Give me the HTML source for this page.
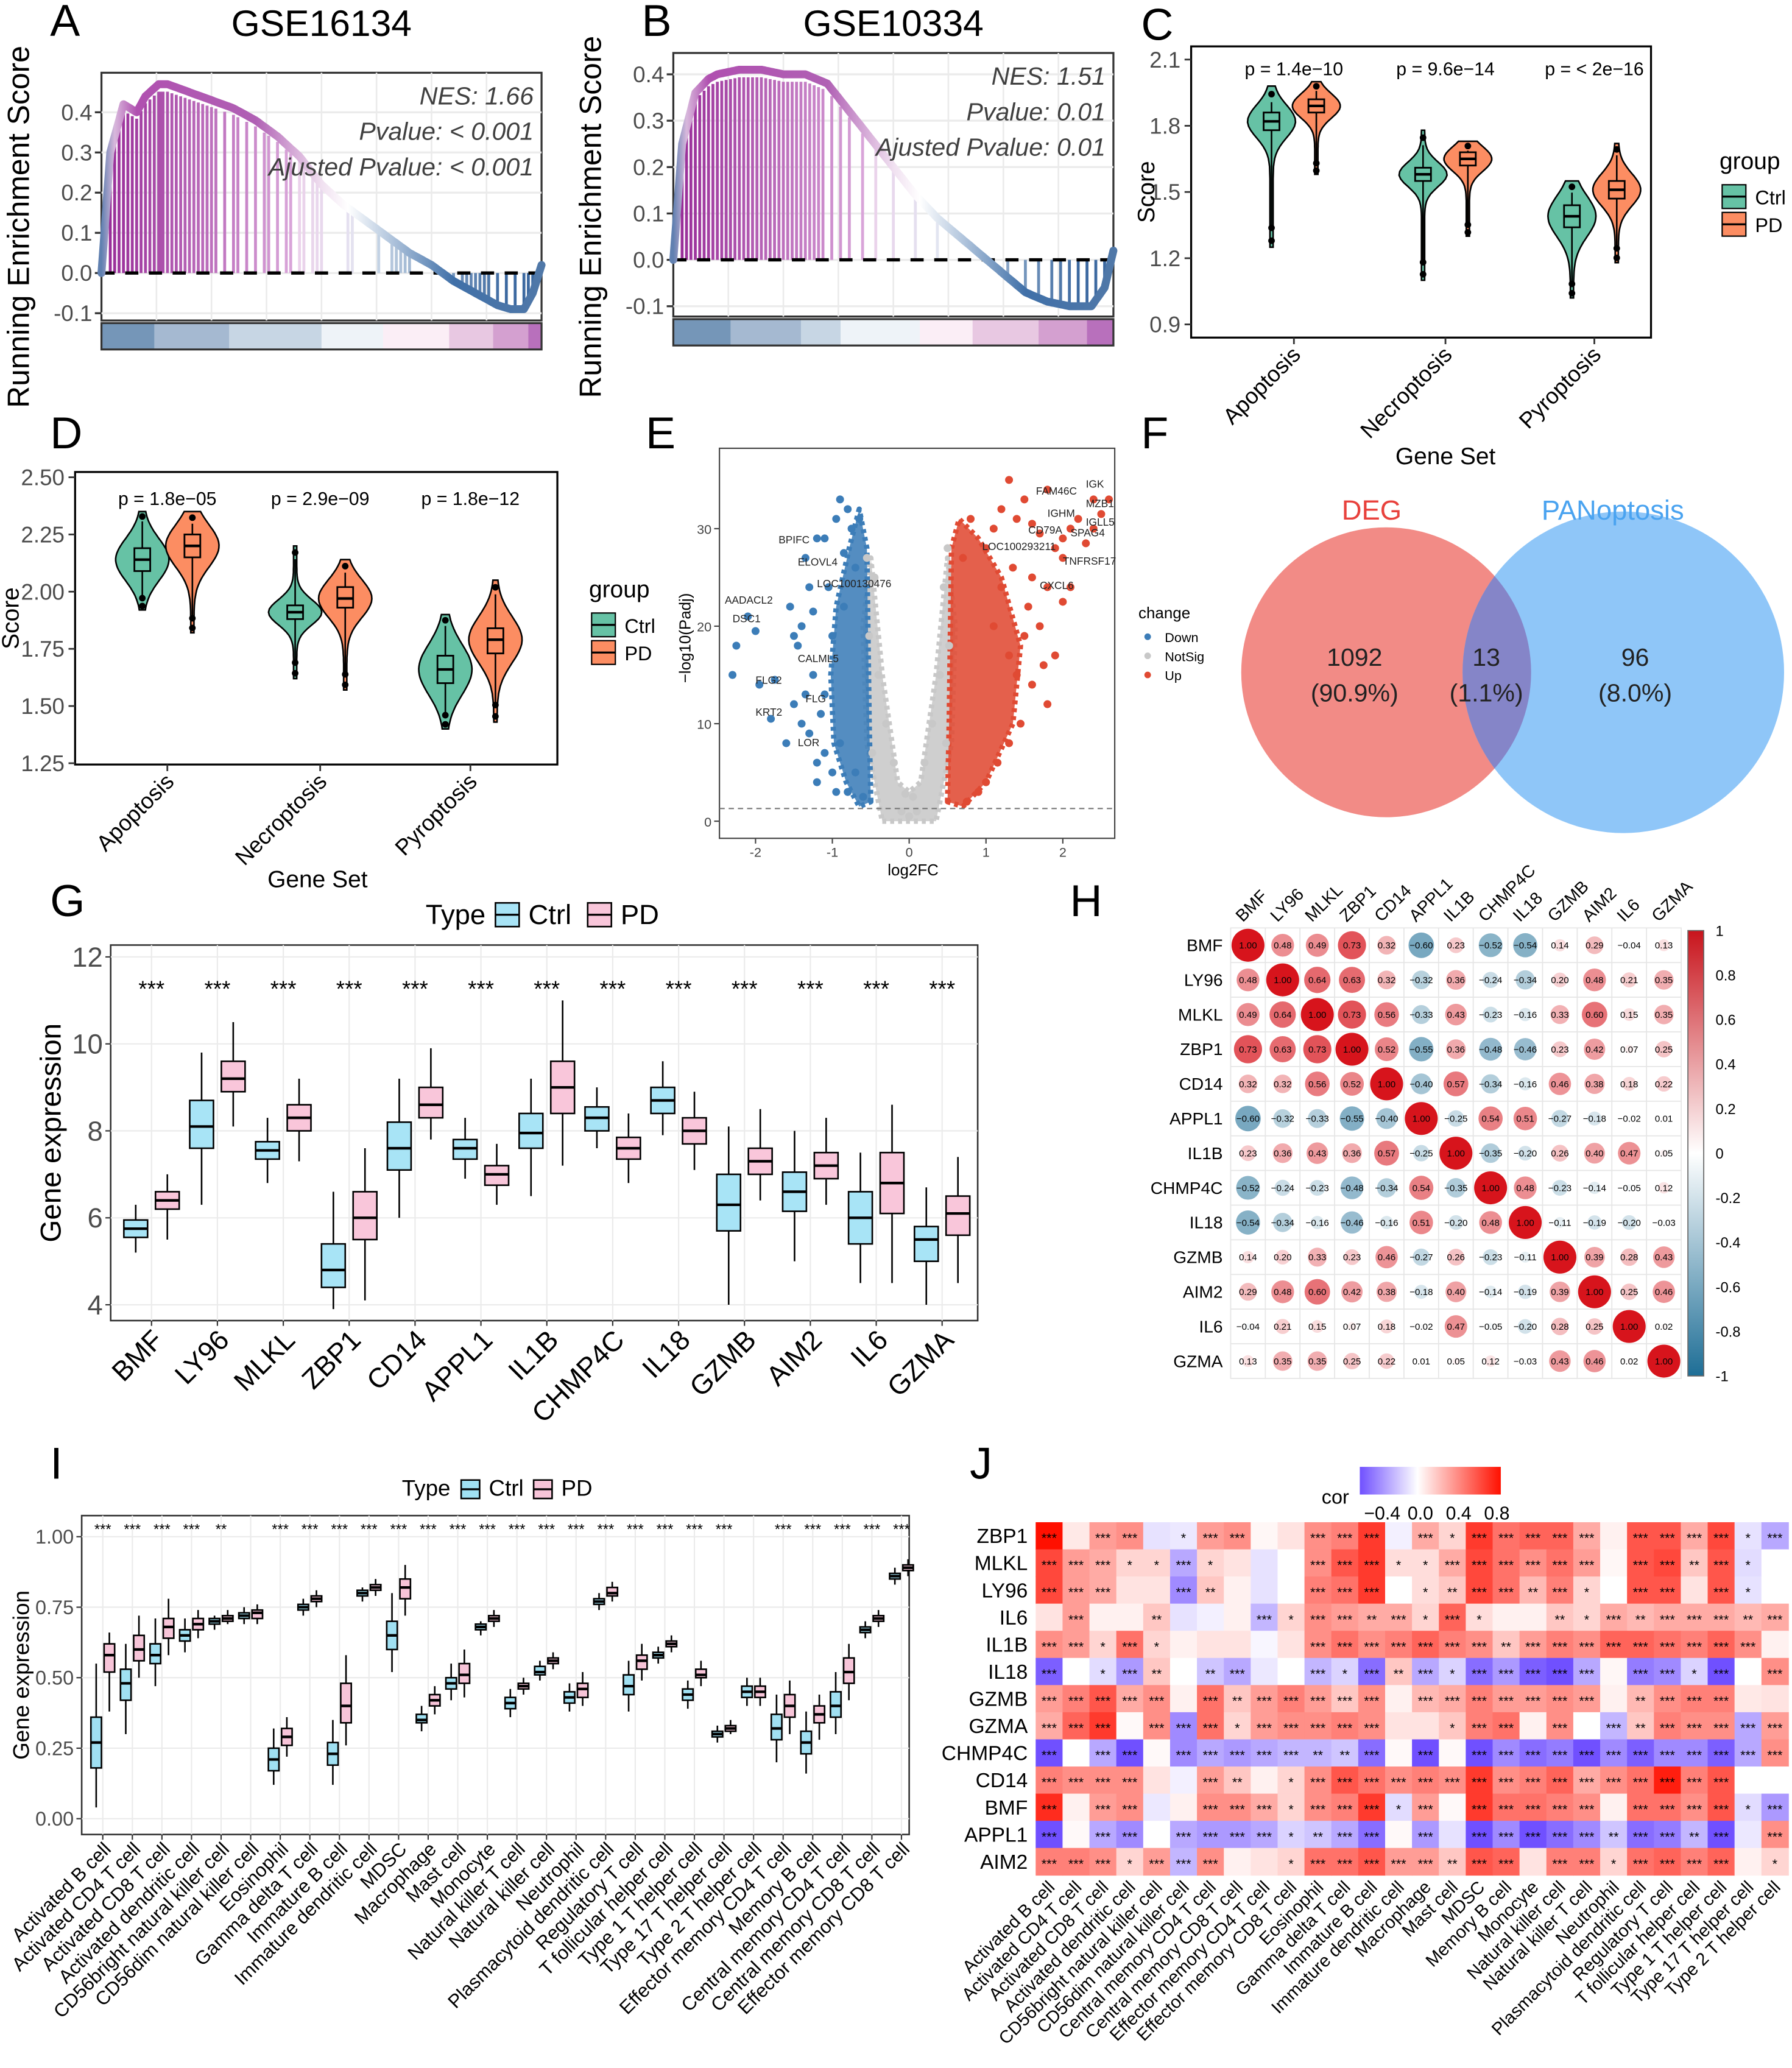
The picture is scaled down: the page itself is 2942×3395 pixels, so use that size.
<!DOCTYPE html>
<html><head><meta charset="utf-8"><title>Figure</title>
<style>
html,body{margin:0;padding:0;background:#fff;}
svg{display:block;}
text{font-family:"Liberation Sans",Arial,sans-serif;}
</style></head>
<body>
<svg id="fig" xmlns="http://www.w3.org/2000/svg" width="2942" height="3395" viewBox="0 0 1360 1569">
<rect x="0" y="0" width="1360" height="1569" fill="#fff"/>
<g font-size="34" fill="#000">
<text x="38" y="27">A</text>
<text x="487" y="27">B</text>
<text x="866" y="30">C</text>
<text x="38" y="340">D</text>
<text x="490" y="340">E</text>
<text x="866" y="340">F</text>
<text x="38" y="695">G</text>
<text x="812" y="695">H</text>
<text x="38" y="1122">I</text>
<text x="736" y="1122">J</text>
</g>
<defs>
<linearGradient id="esGrad" x1="0" x2="1" y1="0" y2="0">
<stop offset="0" stop-color="#6080B0"/><stop offset="0.03" stop-color="#D8B8DC"/><stop offset="0.08" stop-color="#B050B0"/>
<stop offset="0.35" stop-color="#B060B4"/><stop offset="0.5" stop-color="#F0E0F0"/><stop offset="0.56" stop-color="#FFFFFF"/>
<stop offset="0.66" stop-color="#B0C4DC"/><stop offset="0.8" stop-color="#4070A8"/><stop offset="1" stop-color="#5078A8"/>
</linearGradient>
<linearGradient id="hGrad" x1="0" x2="0" y1="0" y2="1">
<stop offset="0" stop-color="#C8141C"/><stop offset="0.5" stop-color="#FFFFFF"/><stop offset="1" stop-color="#1E6E96"/>
</linearGradient>
<linearGradient id="jGrad" x1="0" x2="1" y1="0" y2="0">
<stop offset="0" stop-color="#7050FF"/><stop offset="0.41" stop-color="#FFFFFF"/><stop offset="1" stop-color="#FF1000"/>
</linearGradient>
</defs>
<g id="root"></g>
</svg>
<script>
const esFracA=[0,0.02,0.05,0.08,0.1,0.13,0.15,0.2,0.25,0.3,0.35,0.4,0.45,0.5,0.55,0.6,0.65,0.7,0.75,0.8,0.85,0.9,0.93,0.96,0.98,1];
const esValA=[0,0.30,0.42,0.40,0.44,0.47,0.47,0.45,0.43,0.41,0.38,0.34,0.29,0.22,0.17,0.13,0.09,0.05,0.02,-0.02,-0.05,-0.08,-0.09,-0.09,-0.05,0.02];
const hitsA=[0.02,0.03,0.04,0.05,0.06,0.07,0.08,0.09,0.1,0.11,0.12,0.13,0.135,0.14,0.15,0.16,0.17,0.18,0.19,0.2,0.21,0.22,0.23,0.24,0.25,0.26,0.28,0.3,0.31,0.33,0.35,0.37,0.38,0.4,0.42,0.43,0.45,0.46,0.48,0.49,0.5,0.56,0.57,0.63,0.66,0.67,0.68,0.69,0.7,0.78,0.8,0.82,0.83,0.84,0.85,0.86,0.87,0.88,0.9,0.92,0.94,0.96,0.97,0.98];
const esFracB=[0,0.02,0.05,0.08,0.1,0.15,0.2,0.25,0.3,0.35,0.4,0.45,0.5,0.55,0.6,0.65,0.7,0.75,0.8,0.85,0.9,0.95,0.98,1];
const esValB=[0,0.25,0.36,0.39,0.40,0.41,0.41,0.40,0.40,0.38,0.32,0.26,0.20,0.14,0.09,0.05,0.01,-0.03,-0.07,-0.09,-0.10,-0.10,-0.06,0.02];
const hitsB=[0.02,0.03,0.04,0.05,0.06,0.07,0.08,0.09,0.1,0.11,0.12,0.13,0.14,0.15,0.16,0.17,0.18,0.19,0.2,0.21,0.22,0.23,0.24,0.25,0.26,0.27,0.28,0.29,0.3,0.31,0.32,0.33,0.34,0.36,0.38,0.4,0.43,0.46,0.5,0.55,0.6,0.7,0.76,0.8,0.83,0.86,0.88,0.9,0.92,0.94,0.96,0.98];
const nesA=["NES: 1.66","Pvalue: < 0.001","Ajusted Pvalue: < 0.001"];
const nesB=["NES: 1.51","Pvalue: 0.01","Ajusted Pvalue: 0.01"];
const esTicks=[0.4,0.3,0.2,0.1,0.0,-0.1];

const geneSets=["Apoptosis","Necroptosis","Pyroptosis"];
const cMin=[[1.25,1.58],[1.1,1.3],[1.02,1.18]];
const cMax=[[1.98,2.0],[1.78,1.73],[1.55,1.72]];
const cMed=[[1.82,1.89],[1.58,1.65],[1.39,1.51]];
const cQ1=[[1.78,1.86],[1.55,1.62],[1.34,1.47]];
const cQ3=[[1.86,1.92],[1.61,1.68],[1.44,1.55]];
const cP=["p = 1.4e\u221210","p = 9.6e\u221214","p = < 2e\u221216"];
const cTicks=[2.1,1.8,1.5,1.2,0.9];
const dMin=[[1.92,1.82],[1.62,1.57],[1.4,1.43]];
const dMax=[[2.35,2.35],[2.2,2.14],[1.9,2.05]];
const dMed=[[2.14,2.20],[1.91,1.97],[1.66,1.79]];
const dQ1=[[2.09,2.15],[1.88,1.93],[1.60,1.73]];
const dQ3=[[2.19,2.25],[1.94,2.02],[1.72,1.84]];
const dP=["p = 1.8e\u221205","p = 2.9e\u221209","p = 1.8e\u221212"];
const dTicks=[2.50,2.25,2.00,1.75,1.50,1.25];

const downPts=[[-2.3,15],[-2.25,18],[-2.1,21],[-2.0,19.5],[-1.95,14],[-1.75,14.5],[-1.8,10.5],[-1.5,19],[-1.55,22],[-1.4,20],[-1.3,24],[-1.35,27],[-1.1,29],[-1.2,29],[-0.95,31],[-0.9,33],[-0.8,32],[-0.75,30],[-1.25,15],[-1.35,13],[-1.3,9],[-1.1,7],[-1.2,6],[-1.0,5],[-0.95,3],[-0.8,3],[-1.45,18],[-1.1,13],[-1.05,24],[-0.85,22],[-0.7,26],[-0.65,31],[-1.4,10],[-1.5,12],[-1.15,11],[-0.9,8],[-0.7,5],[-0.6,2.5],[-1.25,21.5],[-1.0,19],[-0.85,27.5],[-1.6,8],[-1.2,4]];
const upPts=[[2.6,33],[2.5,31.5],[2.4,33],[2.2,31],[2.1,30],[2.0,29],[1.9,28],[1.7,29.5],[1.6,30.5],[1.8,34],[1.5,33],[1.3,35],[1.2,32],[1.1,30],[1.4,31],[2.3,28.5],[2.0,27],[1.8,24],[1.6,25],[1.55,22],[1.7,20],[1.9,17],[2.0,22.5],[1.4,15],[1.3,17],[1.6,14],[1.8,12],[1.45,10],[1.3,8],[1.15,6],[1.0,4],[0.9,3],[0.75,2],[1.5,19],[1.2,24],[1.0,28],[0.8,31],[0.7,27],[1.75,16],[2.1,24],[1.1,20],[1.35,26],[2.4,30]];
const nsPts=[[0.05,2.5],[-0.05,2.8],[0.2,6],[-0.2,6],[0.4,15],[-0.4,15],[0.45,24],[-0.45,25],[0.5,28],[-0.55,27],[0.3,10],[-0.3,10],[0.1,1],[-0.1,1],[0,0.5],[0.52,18],[-0.52,19],[0.48,8],[-0.48,7]];
const downCore=[[-0.5,2],[-0.52,10],[-0.55,28],[-0.65,32],[-0.78,28],[-0.95,22],[-1.02,15],[-0.98,8],[-0.82,4],[-0.65,1.5]];
const upCore=[[0.5,2],[0.52,10],[0.55,28],[0.65,31],[0.9,29],[1.2,25],[1.45,18],[1.35,10],[1.0,4],[0.7,1.5]];
const nsCore=[[-0.35,0],[0.35,0],[0.55,8],[0.6,20],[0.5,27],[0.35,15],[0.15,4],[0,3],[-0.15,4],[-0.35,15],[-0.5,27],[-0.6,20],[-0.55,8]];
const eXTicks=[-2,-1,0,1,2];
const eYTicks=[0,10,20,30];
const upLabels=[["FAM46C",1.65,33.5],["IGK",2.3,34.2],["MZB1",2.3,32.2],["IGHM",1.8,31.2],["IGLL5",2.3,30.3],["CD79A",1.55,29.5],["SPAG4",2.1,29.2],["LOC100293211",0.95,27.8],["TNFRSF17",2.0,26.3],["CXCL6",1.7,23.8]];
const downLabels=[["BPIFC",-1.7,28.5],["ELOVL4",-1.45,26.2],["LOC100130476",-1.2,24.0],["AADACL2",-2.4,22.3],["DSC1",-2.3,20.4],["CALML5",-1.45,16.3],["FLG2",-2.0,14.1],["FLG",-1.35,12.2],["KRT2",-2.0,10.8],["LOR",-1.45,7.7]];

const gGenes=["BMF","LY96","MLKL","ZBP1","CD14","APPL1","IL1B","CHMP4C","IL18","GZMB","AIM2","IL6","GZMA"];
const gCtrlMed=[5.75,8.1,7.55,4.8,7.6,7.6,7.95,8.3,8.7,6.3,6.6,6.0,5.5];
const gCtrlQ1=[5.55,7.6,7.35,4.4,7.1,7.35,7.6,8.0,8.4,5.7,6.15,5.4,5.0];
const gCtrlQ3=[5.95,8.7,7.75,5.4,8.2,7.8,8.4,8.55,9.0,7.0,7.05,6.6,5.8];
const gCtrlLo=[5.2,6.3,6.8,3.9,6.0,6.9,6.5,7.6,7.9,4.0,5.0,4.5,4.0];
const gCtrlHi=[6.3,9.8,8.3,6.6,9.2,8.3,9.2,9.0,9.6,8.1,8.0,7.5,6.7];
const gPdMed=[6.4,9.2,8.3,6.0,8.6,7.0,9.0,7.6,8.0,7.3,7.2,6.8,6.1];
const gPdQ1=[6.2,8.9,8.0,5.5,8.3,6.75,8.4,7.35,7.7,7.0,6.9,6.1,5.6];
const gPdQ3=[6.6,9.6,8.6,6.6,9.0,7.2,9.6,7.85,8.3,7.6,7.5,7.5,6.5];
const gPdLo=[5.5,8.1,7.3,4.1,7.8,6.3,7.2,6.8,7.1,6.4,6.3,4.5,4.5];
const gPdHi=[7.0,10.5,9.2,7.6,9.9,7.7,11.0,8.4,8.9,8.5,8.3,8.6,7.4];
const gTicks=[12,10,8,6,4];

const hGenes=["BMF","LY96","MLKL","ZBP1","CD14","APPL1","IL1B","CHMP4C","IL18","GZMB","AIM2","IL6","GZMA"];
const hCor=[
[1.00,0.48,0.49,0.73,0.32,-0.60,0.23,-0.52,-0.54,0.14,0.29,-0.04,0.13],
[0.48,1.00,0.64,0.63,0.32,-0.32,0.36,-0.24,-0.34,0.20,0.48,0.21,0.35],
[0.49,0.64,1.00,0.73,0.56,-0.33,0.43,-0.23,-0.16,0.33,0.60,0.15,0.35],
[0.73,0.63,0.73,1.00,0.52,-0.55,0.36,-0.48,-0.46,0.23,0.42,0.07,0.25],
[0.32,0.32,0.56,0.52,1.00,-0.40,0.57,-0.34,-0.16,0.46,0.38,0.18,0.22],
[-0.60,-0.32,-0.33,-0.55,-0.40,1.00,-0.25,0.54,0.51,-0.27,-0.18,-0.02,0.01],
[0.23,0.36,0.43,0.36,0.57,-0.25,1.00,-0.35,-0.20,0.26,0.40,0.47,0.05],
[-0.52,-0.24,-0.23,-0.48,-0.34,0.54,-0.35,1.00,0.48,-0.23,-0.14,-0.05,0.12],
[-0.54,-0.34,-0.16,-0.46,-0.16,0.51,-0.20,0.48,1.00,-0.11,-0.19,-0.20,-0.03],
[0.14,0.20,0.33,0.23,0.46,-0.27,0.26,-0.23,-0.11,1.00,0.39,0.28,0.43],
[0.29,0.48,0.60,0.42,0.38,-0.18,0.40,-0.14,-0.19,0.39,1.00,0.25,0.46],
[-0.04,0.21,0.15,0.07,0.18,-0.02,0.47,-0.05,-0.20,0.28,0.25,1.00,0.02],
[0.13,0.35,0.35,0.25,0.22,0.01,0.05,0.12,-0.03,0.43,0.46,0.02,1.00]];
const hTicks=["1","0.8","0.6","0.4","0.2","0","-0.2","-0.4","-0.6","-0.8","-1"];

const iCells=["Activated B cell","Activated CD4 T cell","Activated CD8 T cell","Activated dendritic cell","CD56bright natural killer cell","CD56dim natural killer cell","Eosinophil","Gamma delta T cell","Immature B cell","Immature dendritic cell","MDSC","Macrophage","Mast cell","Monocyte","Natural killer T cell","Natural killer cell","Neutrophil","Plasmacytoid dendritic cell","Regulatory T cell","T follicular helper cell","Type 1 T helper cell","Type 17 T helper cell","Type 2 T helper cell","Effector memory CD4 T cell","Memory B cell","Central memory CD4 T cell","Central memory CD8 T cell","Effector memory CD8 T cell"];
const iCtrlMed=[0.27,0.48,0.58,0.65,0.70,0.72,0.21,0.75,0.23,0.80,0.65,0.35,0.48,0.68,0.41,0.52,0.43,0.77,0.47,0.58,0.44,0.30,0.45,0.32,0.27,0.40,0.67,0.86];
const iCtrlQ1=[0.18,0.42,0.55,0.63,0.69,0.71,0.17,0.74,0.19,0.79,0.60,0.34,0.46,0.67,0.39,0.51,0.41,0.76,0.44,0.57,0.42,0.29,0.43,0.28,0.23,0.36,0.66,0.85];
const iCtrlQ3=[0.36,0.53,0.62,0.67,0.71,0.73,0.25,0.76,0.27,0.81,0.70,0.37,0.50,0.69,0.43,0.54,0.45,0.78,0.51,0.59,0.46,0.31,0.47,0.37,0.31,0.45,0.68,0.87];
const iCtrlLo=[0.04,0.30,0.47,0.59,0.67,0.69,0.12,0.72,0.12,0.77,0.52,0.31,0.42,0.65,0.36,0.49,0.38,0.74,0.38,0.55,0.39,0.27,0.40,0.20,0.16,0.30,0.64,0.83];
const iCtrlHi=[0.55,0.62,0.71,0.71,0.72,0.75,0.32,0.78,0.35,0.82,0.80,0.40,0.55,0.70,0.46,0.56,0.48,0.80,0.56,0.61,0.49,0.33,0.50,0.44,0.38,0.52,0.70,0.89];
const iPdMed=[0.58,0.60,0.68,0.69,0.71,0.73,0.29,0.78,0.40,0.82,0.82,0.42,0.51,0.71,0.47,0.56,0.46,0.80,0.56,0.62,0.51,0.32,0.45,0.40,0.37,0.52,0.71,0.89];
const iPdQ1=[0.52,0.56,0.64,0.67,0.70,0.71,0.26,0.77,0.34,0.81,0.78,0.40,0.48,0.70,0.46,0.55,0.43,0.79,0.53,0.61,0.50,0.31,0.43,0.36,0.34,0.48,0.70,0.88];
const iPdQ3=[0.62,0.65,0.71,0.71,0.72,0.74,0.32,0.79,0.48,0.83,0.85,0.44,0.55,0.72,0.48,0.57,0.48,0.82,0.58,0.63,0.53,0.33,0.47,0.44,0.40,0.57,0.72,0.90];
const iPdLo=[0.38,0.50,0.58,0.64,0.69,0.69,0.22,0.75,0.26,0.79,0.72,0.37,0.43,0.68,0.44,0.53,0.40,0.77,0.49,0.59,0.47,0.30,0.40,0.30,0.28,0.42,0.68,0.86];
const iPdHi=[0.66,0.72,0.78,0.74,0.74,0.76,0.36,0.81,0.58,0.85,0.90,0.47,0.60,0.74,0.50,0.59,0.52,0.84,0.62,0.65,0.56,0.35,0.50,0.49,0.44,0.62,0.74,0.92];
const iStars=["***","***","***","***","**","","***","***","***","***","***","***","***","***","***","***","***","***","***","***","***","***","","***","***","***","***","***"];
const iTicks=[1.00,0.75,0.50,0.25,0.00];

const jRows=["ZBP1","MLKL","LY96","IL6","IL1B","IL18","GZMB","GZMA","CHMP4C","CD14","BMF","APPL1","AIM2"];
const jCols=["Activated B cell","Activated CD4 T cell","Activated CD8 T cell","Activated dendritic cell","CD56bright natural killer cell","CD56dim natural killer cell","Central memory CD4 T cell","Central memory CD8 T cell","Effector memory CD4 T cell","Effector memory CD8 T cell","Eosinophil","Gamma delta T cell","Immature B cell","Immature dendritic cell","Macrophage","Mast cell","MDSC","Memory B cell","Monocyte","Natural killer cell","Natural killer T cell","Neutrophil","Plasmacytoid dendritic cell","Regulatory T cell","T follicular helper cell","Type 1 T helper cell","Type 17 T helper cell","Type 2 T helper cell"];
const jCor=[
[0.85,0.08,0.35,0.4,-0.1,-0.08,0.35,0.4,0.03,0.1,0.4,0.45,0.7,-0.05,0.3,0.15,0.7,0.5,0.55,0.55,0.3,0.05,0.6,0.6,0.3,0.65,-0.1,-0.3],
[0.65,0.35,0.3,0.15,0.15,-0.3,0.15,0.1,-0.1,0.0,0.4,0.6,0.7,0.12,0.12,0.3,0.65,0.5,0.4,0.5,0.35,0.03,0.6,0.65,0.2,0.6,-0.12,0.0],
[0.65,0.35,0.3,0.1,0.1,-0.4,0.2,0.05,-0.1,0.0,0.45,0.5,0.7,0.0,0.12,0.2,0.65,0.5,0.25,0.45,0.15,0.0,0.6,0.6,0.1,0.6,-0.1,0.0],
[0.1,0.35,0.05,0.05,0.2,-0.1,-0.05,0.05,-0.25,0.15,0.4,0.35,0.3,0.3,0.15,0.55,0.12,0.05,0.05,0.2,0.15,0.3,0.25,0.3,0.3,0.3,0.25,0.3],
[0.4,0.35,0.15,0.5,0.15,0.05,0.1,0.1,-0.03,0.1,0.4,0.5,0.4,0.45,0.55,0.45,0.4,0.2,0.35,0.45,0.4,0.55,0.55,0.5,0.45,0.55,0.4,0.05],
[-0.55,0.0,-0.12,-0.35,0.2,0.0,-0.2,-0.3,-0.08,0.0,-0.25,-0.15,-0.5,0.2,-0.3,-0.15,-0.5,-0.35,-0.55,-0.6,-0.3,0.03,-0.45,-0.4,-0.15,-0.65,0.0,0.4],
[0.35,0.45,0.6,0.3,0.4,0.05,0.5,0.2,0.35,0.45,0.35,0.2,0.4,0.05,0.25,0.3,0.45,0.35,0.35,0.4,0.35,0.05,0.25,0.4,0.45,0.45,0.08,0.1],
[0.3,0.55,0.7,0.02,0.4,-0.4,0.5,0.15,0.35,0.4,0.4,0.45,0.4,0.1,0.1,0.2,0.45,0.5,0.05,0.4,0.0,-0.25,0.2,0.45,0.4,0.4,-0.3,0.35],
[-0.65,0.0,-0.3,-0.7,0.02,-0.4,-0.3,-0.35,-0.3,-0.25,-0.25,-0.2,-0.5,0.02,-0.6,0.02,-0.6,-0.4,-0.5,-0.45,-0.7,-0.4,-0.55,-0.4,-0.4,-0.55,-0.3,0.4],
[0.45,0.4,0.4,0.4,0.1,-0.05,0.35,0.2,0.05,0.15,0.4,0.6,0.5,0.4,0.45,0.4,0.7,0.4,0.45,0.55,0.3,0.4,0.5,0.8,0.45,0.6,0.0,0.0],
[0.75,0.05,0.35,0.4,-0.08,0.05,0.4,0.4,0.3,0.15,0.4,0.45,0.7,-0.12,0.35,0.02,0.7,0.5,0.5,0.45,0.4,0.05,0.5,0.5,0.4,0.6,-0.12,-0.35],
[-0.7,0.02,-0.3,-0.4,0.0,-0.3,-0.35,-0.35,-0.3,-0.15,-0.2,-0.3,-0.5,0.02,-0.35,-0.1,-0.7,-0.4,-0.6,-0.5,-0.4,-0.2,-0.5,-0.45,-0.25,-0.7,-0.08,0.4],
[0.45,0.45,0.4,0.15,0.35,-0.25,0.4,0.05,0.1,0.15,0.5,0.5,0.6,0.35,0.35,0.2,0.6,0.55,0.1,0.45,0.45,0.15,0.5,0.55,0.45,0.55,0.05,0.15]];
const jStars=[
["***","","***","***","","*","***","***","","","***","***","***","","***","*","***","***","***","***","***","","***","***","***","***","*","***"],
["***","***","***","*","*","***","*","","","","***","***","***","*","*","***","***","***","***","***","***","","***","***","**","***","*",""],
["***","***","***","","","***","**","","","","***","***","***","","*","**","***","***","**","***","*","","***","***","","***","*",""],
["","***","","","**","","","","***","*","***","***","**","***","*","***","*","","","**","*","***","**","***","***","***","**","***"],
["***","***","*","***","*","","","","","","***","***","***","***","***","***","***","**","***","***","***","***","***","***","***","***","***",""],
["***","","*","***","**","","**","***","","","***","*","***","**","***","*","***","***","***","***","***","","***","***","*","***","","***"],
["***","***","***","***","***","","***","**","***","***","***","***","***","","***","***","***","***","***","***","***","","**","***","***","***","",""],
["***","***","***","","***","***","***","*","***","***","***","***","***","","","*","***","***","","***","","***","**","***","***","***","***","***"],
["***","","***","***","","***","***","***","***","***","**","**","***","","***","","***","***","***","***","***","***","***","***","***","***","***","***"],
["***","***","***","***","","","***","**","","*","***","***","***","***","***","***","***","***","***","***","***","***","***","***","***","***","",""],
["***","","***","***","","","***","***","***","*","***","***","***","*","***","","***","***","***","***","***","","***","***","***","***","*","***"],
["***","","***","***","","***","***","***","***","*","**","***","***","","***","","***","***","***","***","***","**","***","***","**","***","","***"],
["***","***","***","*","***","***","***","","","*","***","***","***","***","***","**","***","***","","***","***","*","***","***","***","***","","*"]];
const jTicks=[-0.4,0.0,0.4,0.8];

const NS='http://www.w3.org/2000/svg';
const root=document.getElementById('root');
function mk(tag,attrs,parent){const e=document.createElementNS(NS,tag);for(const k in attrs)e.setAttribute(k,attrs[k]);(parent||root).appendChild(e);return e;}
function tx(x,y,s,attrs,parent){const e=mk('text',Object.assign({x:x,y:y},attrs||{}),parent);e.textContent=s;return e;}
function lerp(a,b,t){return a+(b-a)*t;}
function interp(fr,vals,f){for(let i=1;i<fr.length;i++){if(f<=fr[i]){const t=(f-fr[i-1])/(fr[i]-fr[i-1]);return lerp(vals[i-1],vals[i],t);}}return vals[vals.length-1];}
function mix(c1,c2,t){t=Math.max(0,Math.min(1,t));return 'rgb('+Math.round(lerp(c1[0],c2[0],t))+','+Math.round(lerp(c1[1],c2[1],t))+','+Math.round(lerp(c1[2],c2[2],t))+')';}

function gsea(P){
  const g=mk('g',{});
  
  
  const xS=f=>P.x0+f*P.w;
  const yS=v=>P.y0v-v*P.k;
  let t=tx(P.x0+P.w/2,27,P.title,{'font-size':28,'text-anchor':'middle'},g);
  
  
  const bx=mk('rect',{x:P.x0,y:P.top,width:P.w,height:P.bot-P.top,fill:'#fff',stroke:'#333','stroke-width':1.5},g);
  
  
  esTicks.forEach(v=>{
    const gl=mk('line',{x1:P.x0,x2:P.x0+P.w,y1:yS(v),y2:yS(v),stroke:'#ebebeb','stroke-width':1.5},g);
    
    
    const tk=mk('line',{x1:P.x0-5,x2:P.x0,y1:yS(v),y2:yS(v),stroke:'#333','stroke-width':1.5},g);
    
    
    const tl=tx(P.x0-7,yS(v)+6,v.toFixed(1),{'font-size':17,'text-anchor':'end',fill:'#4d4d4d'},g);
    
    
  });
  for(let i=1;i<8;i++){
    const vl=mk('line',{x1:P.x0+i*P.w/8,x2:P.x0+i*P.w/8,y1:P.top,y2:P.bot,stroke:'#ebebeb','stroke-width':1.2},g);
    
    
  }
  const yl=tx(0,0,'Running Enrichment Score',{'font-size':23,'text-anchor':'middle',transform:'translate('+(P.x0-55)+','+((P.top+265)/2+12)+') rotate(-90)'},g);
  
  
  P.hits.forEach(f=>{
    const v=interp(P.fr,P.vals,f)*0.96;
    let col;
    if(f<0.45) col=mix([150,40,150],[220,170,220],f/0.45);
    else if(f<0.62) col=mix([235,210,235],[225,232,242],(f-0.45)/0.17);
    else col=mix([200,214,230],[60,105,160],(f-0.62)/0.3);
    const hl=mk('line',{x1:xS(f),x2:xS(f),y1:yS(0),y2:yS(v),stroke:col,'stroke-width':2.2},g);
    
    
  });
  const zl=mk('line',{x1:P.x0,x2:P.x0+P.w,y1:yS(0),y2:yS(0),stroke:'#000','stroke-width':2.5,'stroke-dasharray':'10,8'},g);
  
  
  let d='';
  for(let i=0;i<=200;i++){const f=i/200;d+=(i?'L':'M')+xS(f).toFixed(1)+','+yS(interp(P.fr,P.vals,f)).toFixed(1);}
  const es=mk('path',{d:d,fill:'none',stroke:'url(#esGrad)','stroke-width':6,'stroke-linejoin':'round','stroke-linecap':'round'},g);
  
  
  P.nes.forEach((s,i)=>{
    const nt=tx(P.x0+P.w-6,P.top+24+i*27,s,{'font-size':19,'text-anchor':'end','font-style':'italic',fill:'#404040'},g);
    
    
  });
  const cb=mk('g',{},g);
  
  
  P.bands.forEach(b=>{
    const r=mk('rect',{x:xS(b[0]),y:P.cbY,width:xS(b[1])-xS(b[0])+0.5,height:20,fill:b[2]},cb);
    
    
  });
  const cbb=mk('rect',{x:P.x0,y:P.cbY,width:P.w,height:20,fill:'none',stroke:'#333','stroke-width':1.5},cb);
  
  
}
const bandsA=[[0,0.12,'#7596B8'],[0.12,0.29,'#A5B9D1'],[0.29,0.5,'#C7D6E4'],[0.5,0.64,'#EEF3F8'],[0.64,0.79,'#FBEEF6'],[0.79,0.89,'#E8C8E2'],[0.89,0.97,'#D4A0D0'],[0.97,1,'#B870BC']];
const bandsB=[[0,0.13,'#7596B8'],[0.13,0.29,'#A5B9D1'],[0.29,0.38,'#C7D6E4'],[0.38,0.56,'#EEF3F8'],[0.56,0.68,'#FBEEF6'],[0.68,0.83,'#E8C8E2'],[0.83,0.94,'#D4A0D0'],[0.94,1,'#B870BC']];
gsea({name:'panel-a-gsea',title:'GSE16134',x0:77,w:334,top:55,bot:243,y0v:207,k:305,fr:esFracA,vals:esValA,hits:hitsA,nes:nesA,bands:bandsA,cbY:245});
gsea({name:'panel-b-gsea',title:'GSE10334',x0:511,w:334,top:40,bot:240,y0v:197,k:352,fr:esFracB,vals:esValB,hits:hitsB,nes:nesB,bands:bandsB,cbY:242});

function violinPanel(P){
  const g=mk('g',{});
  
  
  const yS=v=>P.yb-(v-P.vmin)/(P.vmax-P.vmin)*P.h;
  const bx=mk('rect',{x:P.x0,y:P.top,width:P.x1-P.x0,height:P.bot-P.top,fill:'#fff',stroke:'#000','stroke-width':1.5},g);
  
  
  P.ticks.forEach(v=>{
    const tk=mk('line',{x1:P.x0-5,x2:P.x0,y1:yS(v),y2:yS(v),stroke:'#333','stroke-width':1.3},g);
    
    
    const tl=tx(P.x0-8,yS(v)+6,v.toFixed(P.dec),{'font-size':17,'text-anchor':'end',fill:'#4d4d4d'},g);
    
    
  });
  const cols=['#66C2A5','#FC8D62'];
  geneSets.forEach((s,i)=>{
    const cx=P.cx[i];
    const tk=mk('line',{x1:cx,x2:cx,y1:P.bot,y2:P.bot+5,stroke:'#333','stroke-width':1.3},g);
    
    
    const xl=tx(0,0,s,{'font-size':17,'text-anchor':'end',transform:'translate('+(cx+6)+','+(P.bot+14)+') rotate(-45)'},g);
    
    
    const pl=tx(cx,P.pY,P.p[i],{'font-size':14,'text-anchor':'middle'},g);
    
    
    [0,1].forEach(k=>{
      const vx=cx+(k?1:-1)*P.off;
      const mn=P.mn[i][k],mx=P.mx[i][k],md=P.md[i][k],q1=P.q1[i][k],q3=P.q3[i][k];
      const s2=Math.max(q3-q1,0.02)*1.3;
      let L=[],R=[];
      for(let j=0;j<=40;j++){
        const v=mn+(mx-mn)*j/40;
        const w=1.2+P.W*Math.exp(-Math.pow((v-md)/s2,2));
        L.push((vx-w).toFixed(1)+','+yS(v).toFixed(1));
        R.unshift((vx+w).toFixed(1)+','+yS(v).toFixed(1));
      }
      const vp=mk('path',{d:'M'+L.join('L')+'L'+R.join('L')+'Z',fill:cols[k],stroke:'#000','stroke-width':1.2},g);
      
      
      const wl=mk('line',{x1:vx,x2:vx,y1:yS(mn+(mx-mn)*0.1),y2:yS(mx-(mx-mn)*0.1),stroke:'#000','stroke-width':1.2},g);
      
      
      [mn+(mx-mn)*0.04,mn+(mx-mn)*0.12,mx-(mx-mn)*0.05].forEach(ov=>{
        const od=mk('circle',{cx:vx,cy:yS(ov),r:2.5,fill:'#000'},g);
        
        
      });
      const br=mk('rect',{x:vx-6,y:yS(q3),width:12,height:yS(q1)-yS(q3),fill:cols[k],stroke:'#000','stroke-width':1.3},g);
      
      
      const ml=mk('line',{x1:vx-6,x2:vx+6,y1:yS(md),y2:yS(md),stroke:'#000','stroke-width':2},g);
      
      
    });
  });
  const yt=tx(0,0,'Score',{'font-size':18,'text-anchor':'middle',transform:'translate('+P.ytX+','+((P.top+P.bot)/2)+') rotate(-90)'},g);
  
  
  const xt=tx(P.gsX,P.gsY,'Gene Set',{'font-size':18,'text-anchor':'middle'},g);
  
  
  const lg=mk('g',{},g);
  
  
  const lt=tx(P.lx,P.ly,'group',{'font-size':18},lg);
  
  
  ['Ctrl','PD'].forEach((n,k)=>{
    const yy=P.ly+12+k*21;
    const kr=mk('rect',{x:P.lx+2,y:yy,width:18,height:18,fill:cols[k],stroke:'#000','stroke-width':1},lg);
    
    
    const kl=mk('line',{x1:P.lx+2,x2:P.lx+20,y1:yy+9,y2:yy+9,stroke:'#000','stroke-width':1.5},lg);
    
    
    const lb=tx(P.lx+27,yy+15,n,{'font-size':15},lg);
    
    
  });
}
violinPanel({name:'panel-c-violin',x0:904,x1:1253,top:35,bot:256,yb:246,h:201,vmin:0.9,vmax:2.1,ticks:cTicks,dec:1,cx:[982,1097,1210],off:17,W:17,mn:cMin,mx:cMax,md:cMed,q1:cQ1,q3:cQ3,p:cP,pY:57,ytX:876,gsX:1097,gsY:352,lx:1305,ly:128});
violinPanel({name:'panel-d-violin',x0:57,x1:423,top:358,bot:580,yb:579,h:217,vmin:1.25,vmax:2.5,ticks:dTicks,dec:2,cx:[127,243,357],off:19,W:19,mn:dMin,mx:dMax,md:dMed,q1:dQ1,q3:dQ3,p:dP,pY:383,ytX:14,gsX:241,gsY:673,lx:447,ly:453});

(function(){
  const g=mk('g',{});
  
  
  const xS=v=>690+v*58.3, yS=v=>623-v*7.4;
  const bx=mk('rect',{x:546,y:340,width:300,height:296,fill:'#fff',stroke:'#444','stroke-width':1},g);
  
  
  const poly=(pts,col,name)=>{
    const p=mk('polygon',{points:pts.map(q=>xS(q[0]).toFixed(1)+','+yS(q[1]).toFixed(1)).join(' '),fill:col,'fill-opacity':0.88,stroke:col,'stroke-width':4,'stroke-linejoin':'round','stroke-dasharray':'3,3'},g);
    
    
  };
  poly(nsCore,'#C8C8C8','notsig-cluster');
  poly(downCore,'#3C7DB8','down-cluster');
  poly(upCore,'#E04A33','up-cluster');
  nsPts.forEach(q=>{const c=mk('circle',{cx:xS(q[0]),cy:yS(q[1]),r:3,fill:'#C8C8C8'},g);
    
    });
  downPts.forEach(q=>{const c=mk('circle',{cx:xS(q[0]),cy:yS(q[1]),r:3,fill:'#3C7DB8'},g);
    
    });
  upPts.forEach(q=>{const c=mk('circle',{cx:xS(q[0]),cy:yS(q[1]),r:3,fill:'#E04A33'},g);
    
    });
  const th=mk('line',{x1:546,x2:846,y1:yS(1.3),y2:yS(1.3),stroke:'#777','stroke-width':1,'stroke-dasharray':'4,3'},g);
  
  
  upLabels.concat(downLabels).forEach(l=>{
    const t=tx(xS(l[1]),yS(l[2]),l[0],{'font-size':8,fill:'#222'},g);
    
    
  });
  eXTicks.forEach(v=>{
    const tk=mk('line',{x1:xS(v),x2:xS(v),y1:636,y2:640,stroke:'#444'},g);
    
    
    const tl=tx(xS(v),650,String(v),{'font-size':10,'text-anchor':'middle',fill:'#444'},g);
    
    
  });
  eYTicks.forEach(v=>{
    const tk=mk('line',{x1:542,x2:546,y1:yS(v),y2:yS(v),stroke:'#444'},g);
    
    
    const tl=tx(540,yS(v)+4,String(v),{'font-size':10,'text-anchor':'end',fill:'#444'},g);
    
    
  });
  const xt=tx(693,664,'log2FC',{'font-size':12,'text-anchor':'middle'},g);
  
  
  const yt=tx(0,0,'\u2212log10(Padj)',{'font-size':12,'text-anchor':'middle',transform:'translate(524,484) rotate(-90)'},g);
  
  
  const lt=tx(864,469,'change',{'font-size':12},g);
  
  
  [['Down','#3C7DB8'],['NotSig','#C8C8C8'],['Up','#E04A33']].forEach((e,k)=>{
    const c=mk('circle',{cx:871,cy:483+k*14.5,r:2.5,fill:e[1]},g);
    
    
    const t=tx(884,487+k*14.5,e[0],{'font-size':10},g);
    
    
  });
})();

(function(){
  const g=mk('g',{});
  
  
  const c1=mk('circle',{cx:1052,cy:510,r:110,fill:'#F28B86'},g);
  
  
  const c2=mk('circle',{cx:1232,cy:510,r:122,fill:'#8FC6F8'},g);
  
  
  const cp=mk('clipPath',{id:'clipDeg'},g);
  mk('circle',{cx:1052,cy:510,r:110},cp);
  const ov=mk('circle',{cx:1232,cy:510,r:122,fill:'#8585C8','clip-path':'url(#clipDeg)'},g);
  
  
  const items=[['DEG',1041,394,'#E8413C',21],['PANoptosis',1224,394,'#4AA3F0',21],['1092',1028,505,'#222',19],['(90.9%)',1028,532,'#222',19],['13',1128,505,'#222',19],['(1.1%)',1128,532,'#222',19],['96',1241,505,'#222',19],['(8.0%)',1241,532,'#222',19]];
  items.forEach(it=>{
    const t=tx(it[1],it[2],it[0],{'font-size':it[4],'text-anchor':'middle',fill:it[3]},g);
    
    
  });
})();

function boxPanel(P){
  const g=mk('g',{});
  
  
  const yS=P.yS;
  const bx=mk('rect',{x:P.x0,y:P.top,width:P.x1-P.x0,height:P.bot-P.top,fill:'#fff',stroke:'#333','stroke-width':1.2},g);
  
  
  P.ticks.forEach(v=>{
    const gl=mk('line',{x1:P.x0,x2:P.x1,y1:yS(v),y2:yS(v),stroke:'#ebebeb','stroke-width':1},g);
    
    
    const tk=mk('line',{x1:P.x0-4,x2:P.x0,y1:yS(v),y2:yS(v),stroke:'#333'},g);
    
    
    const tl=tx(P.x0-6,yS(v)+P.tfs*0.35,v.toFixed(P.dec),{'font-size':P.tfs,'text-anchor':'end',fill:'#4d4d4d'},g);
    
    
  });
  P.cats.forEach((c,i)=>{
    const cx=P.c0+i*P.sp;
    const gv=mk('line',{x1:cx,x2:cx,y1:P.top,y2:P.bot,stroke:'#ebebeb','stroke-width':1},g);
    
    
  });
  P.cats.forEach((c,i)=>{
    const cx=P.c0+i*P.sp;
    [0,1].forEach(k=>{
      const S=k?P.pd:P.ctrl;
      const vx=cx+(k?1:-1)*P.off;
      const w=mk('line',{x1:vx,x2:vx,y1:yS(S.lo[i]),y2:yS(S.hi[i]),stroke:'#000','stroke-width':1.2},g);
      
      
      const r=mk('rect',{x:vx-P.bw/2,y:yS(S.q3[i]),width:P.bw,height:Math.max(1,yS(S.q1[i])-yS(S.q3[i])),fill:k?P.pdCol:P.ctrlCol,stroke:'#000','stroke-width':1.2},g);
      
      
      const m=mk('line',{x1:vx-P.bw/2,x2:vx+P.bw/2,y1:yS(S.med[i]),y2:yS(S.med[i]),stroke:'#000','stroke-width':2},g);
      
      
    });
    const st=tx(cx,P.starY,P.stars[i],{'font-size':P.sfs,'text-anchor':'middle'},g);
    
    
    const tk=mk('line',{x1:cx,x2:cx,y1:P.bot,y2:P.bot+4,stroke:'#333'},g);
    
    
    const xl=tx(0,0,c,{'font-size':P.xfs,'text-anchor':'end',transform:'translate('+(cx+P.xdx)+','+(P.bot+P.xdy)+') rotate(-45)'},g);
    
    
  });
  const yt=tx(0,0,'Gene expression',{'font-size':P.yfs,'text-anchor':'middle',transform:'translate('+P.ytX+','+((P.top+P.bot)/2)+') rotate(-90)'},g);
  
  
  const lg=mk('g',{},g);
  
  
  const L=P.leg;
  const lt=tx(L.x,L.y,'Type',{'font-size':L.fs},lg);
  
  
  [['Ctrl',P.ctrlCol,L.k1],['PD',P.pdCol,L.k2]].forEach(e=>{
    const kr=mk('rect',{x:e[2],y:L.y-L.ks+2,width:L.ks,height:L.ks,fill:e[1],stroke:'#000','stroke-width':1.2},lg);
    
    
    const kl=mk('line',{x1:e[2],x2:e[2]+L.ks,y1:L.y-L.ks/2+2,y2:L.y-L.ks/2+2,stroke:'#000','stroke-width':1.5},lg);
    
    
    const lb=tx(e[2]+L.ks+7,L.y,e[0],{'font-size':L.fs},lg);
    
    
  });
}
boxPanel({name:'panel-g-boxplot',x0:84,x1:742,top:717,bot:1002,yS:v=>858-(v-8)*33,ticks:gTicks,dec:0,tfs:21,cats:gGenes,c0:115,sp:50,off:12,bw:18,
  ctrl:{med:gCtrlMed,q1:gCtrlQ1,q3:gCtrlQ3,lo:gCtrlLo,hi:gCtrlHi},pd:{med:gPdMed,q1:gPdQ1,q3:gPdQ3,lo:gPdLo,hi:gPdHi},
  ctrlCol:'#A8E4F6',pdCol:'#F9C6DA',stars:gGenes.map(()=>'***'),starY:756,sfs:17,xfs:21,xdx:10,xdy:16,yfs:22,ytX:46,
  leg:{x:323,y:701,fs:21,ks:18,k1:376,k2:446}});
boxPanel({name:'panel-i-boxplot',x0:62,x1:690,top:1150,bot:1392,yS:v=>1380-v*214,ticks:iTicks,dec:2,tfs:15,cats:iCells,c0:78,sp:22.45,off:5,bw:8,
  ctrl:{med:iCtrlMed,q1:iCtrlQ1,q3:iCtrlQ3,lo:iCtrlLo,hi:iCtrlHi},pd:{med:iPdMed,q1:iPdQ1,q3:iPdQ3,lo:iPdLo,hi:iPdHi},
  ctrlCol:'#A0E0F2',pdCol:'#F7C4D8',stars:iStars,starY:1164,sfs:11,xfs:14.5,xdx:7,xdy:12,yfs:17,ytX:22,
  leg:{x:305,y:1135,fs:17,ks:14,k1:350,k2:405}});

(function(){
  const g=mk('g',{});
  
  
  const x0=934,y0=704,cs=26.3,n=hGenes.length;
  const col=v=>v>=0?mix([255,255,255],[215,20,28],v):mix([255,255,255],[30,110,150],-v);
  for(let i=0;i<n;i++){
    const rl=tx(x0-6,y0+i*cs+cs/2+4.5,hGenes[i],{'font-size':13,'text-anchor':'end'},g);
    
    
    const cl=tx(0,0,hGenes[i],{'font-size':13,transform:'translate('+(x0+i*cs+cs/2-4)+','+(y0-4)+') rotate(-45)'},g);
    
    
    for(let j=0;j<n;j++){
      const v=hCor[i][j];
      const cx=x0+j*cs+cs/2, cy=y0+i*cs+cs/2;
      const cell=mk('rect',{x:x0+j*cs,y:y0+i*cs,width:cs,height:cs,fill:'#fff',stroke:'#e6e6e6','stroke-width':0.8},g);
      
      
      const c=mk('circle',{cx:cx,cy:cy,r:Math.max(2,Math.sqrt(Math.abs(v))*12.5),fill:col(v)},g);
      
      
      const t=tx(cx,cy+2.5,v.toFixed(2).replace('-','\u2212'),{'font-size':7,'text-anchor':'middle',fill:'#000'},g);
      
      
    }
  }
  const cb=mk('rect',{x:1281,y:706,width:12,height:338,fill:'url(#hGrad)',stroke:'#666','stroke-width':0.8},g);
  
  
  hTicks.forEach((s,k)=>{
    const t=tx(1302,706+k*33.8+4,s,{'font-size':11},g);
    
    
  });
})();

(function(){
  const g=mk('g',{});
  
  
  const x0=786,y0=1155,cw=20.4,rh=20.6;
  const col=v=>v>=0?mix([255,255,255],[255,16,0],v/0.85):mix([255,255,255],[112,80,255],-v/0.6);
  jRows.forEach((r,i)=>{
    const rl=tx(x0-6,y0+i*rh+rh/2+5.5,r,{'font-size':15.5,'text-anchor':'end'},g);
    
    
    jCols.forEach((c,j)=>{
      const v=jCor[i][j];
      const cell=mk('rect',{x:x0+j*cw,y:y0+i*rh,width:cw+0.4,height:rh+0.4,fill:col(v)},g);
      
      
      const s=jStars[i][j];
      if(s){
        const t=tx(x0+j*cw+cw/2,y0+i*rh+rh/2+5,s,{'font-size':10,'text-anchor':'middle'},g);
        
        
      }
    });
  });
  jCols.forEach((c,j)=>{
    const cl=tx(0,0,c,{'font-size':13.5,'text-anchor':'end',transform:'translate('+(x0+j*cw+cw/2+5)+','+(y0+13*rh+10)+') rotate(-45)'},g);
    
    
  });
  const ct=tx(1003,1141,'cor',{'font-size':15},g);
  
  
  const cb=mk('rect',{x:1032,y:1113,width:107,height:21,fill:'url(#jGrad)'},g);
  
  
  jTicks.forEach(v=>{
    const t=tx(1078+v*72.5,1153,v.toFixed(1).replace('-','\u2212'),{'font-size':14,'text-anchor':'middle'},g);
    
    
  });
})();
</script>
</body></html>
